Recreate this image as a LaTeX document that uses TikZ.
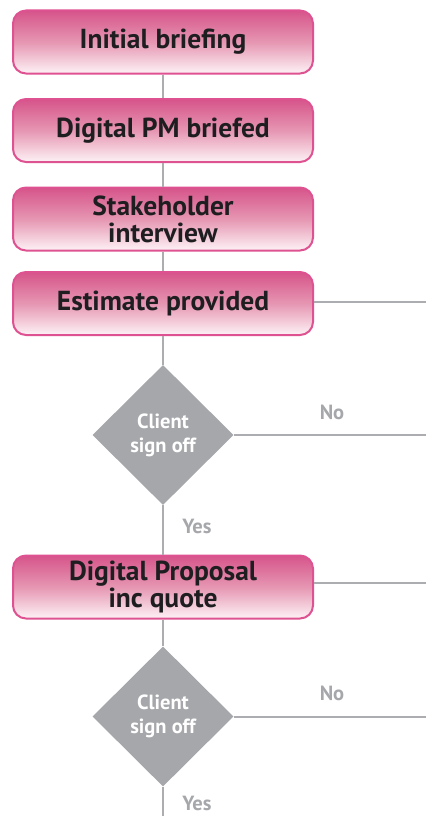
\documentclass[tikz,border=0pt]{standalone}
\usepackage{fontspec}
\setmainfont{PT Sans}
\usetikzlibrary{shapes.geometric}
\definecolor{pinkedge}{RGB}{222,82,145}
\definecolor{pinktop}{RGB}{214,84,138}
\definecolor{pinkmid}{RGB}{230,150,178}
\definecolor{pinkbot}{RGB}{253,242,246}
\definecolor{linegray}{RGB}{172,173,177}
\definecolor{diagray}{RGB}{166,167,171}
\definecolor{txtdark}{RGB}{30,30,32}
\begin{document}
\begin{tikzpicture}[x=1pt,y=1pt,
  stepbox/.style={draw=pinkedge, line width=2pt, rounded corners=13pt,
    top color=pinktop, bottom color=pinkbot, middle color=pinkmid,
    minimum width=300pt, minimum height=63pt, inner sep=0pt,
    align=center, font=\fontsize{27.5}{27}\selectfont\bfseries, text=txtdark},
  decision/.style={diamond, fill=diagray, draw=none, inner sep=0pt,
    minimum width=141pt, minimum height=140pt, align=center,
    font=\fontsize{20.5}{24}\selectfont\bfseries, text=white},
  lbl/.style={font=\fontsize{20.5}{20.5}\selectfont\bfseries, text=diagray, inner sep=0pt},
  conn/.style={draw=linegray, line width=2pt}]
\useasboundingbox (0,0) rectangle (426,-816);
\node[stepbox] (b1) at (163,-42) {Initial briefing};
\node[stepbox] (b2) at (163,-130.5) {Digital PM briefed};
\node[stepbox] (b3) at (163,-219) {Stakeholder\\interview};
\node[stepbox] (b4) at (163,-303.5) {Estimate provided};
\node[decision] (d1) at (163,-435) {Client\\sign off};
\node[stepbox] (b5) at (163,-587) {Digital Proposal\\inc quote};
\node[decision] (d2) at (163,-716.5) {Client\\sign off};
\coordinate (r4) at (426,-302);
\coordinate (rd1) at (426,-435);
\coordinate (r5) at (426,-583);
\coordinate (rd2) at (426,-716.5);
\coordinate (bot) at (163,-816);
\node[lbl] (no1) at (332,-412) {No};
\node[lbl] (yes1) at (197,-526) {Yes};
\node[lbl] (no2) at (332,-693) {No};
\node[lbl] (yes2) at (197,-803) {Yes};
\draw[conn] (b1.south) -- (b2.north);
\draw[conn] (b2.south) -- (b3.north);
\draw[conn] (b3.south) -- (b4.north);
\draw[conn] (b4.south) -- (d1.north);
\draw[conn] (d1.south) -- (b5.north);
\draw[conn] (b5.south) -- (d2.north);
\draw[conn] (d2.south) -- (bot);
\draw[conn] (b4.east |- r4) -- (r4);
\draw[conn] (d1.east) -- (rd1);
\draw[conn] (b5.east |- r5) -- (r5);
\draw[conn] (d2.east) -- (rd2);
\end{tikzpicture}
\end{document}
